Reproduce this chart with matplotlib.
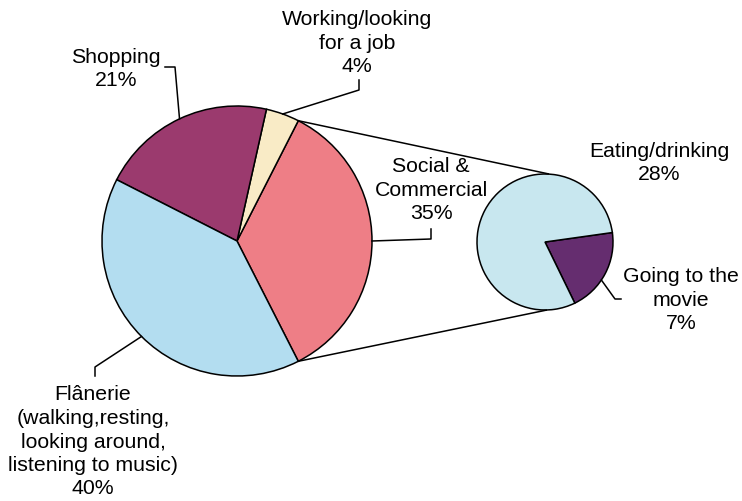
import numpy as np
import matplotlib
matplotlib.use("Agg")
import matplotlib.pyplot as plt

# ---- data ----
main_labels = ["Social &\nCommercial", "Working/looking\nfor a job", "Shopping",
               "Flânerie\n(walking,resting,\nlooking around,\nlistening to music)"]
main_values = [35, 4, 21, 40]
main_colors = ["#EE7E86", "#F9EBC6", "#9B3A6E", "#B3DDF0"]

sub_labels = ["Going to the\nmovie", "Eating/drinking"]
sub_values = [7, 28]
sub_colors = ["#652D6F", "#C8E7EF"]

W, H = 742, 501
fig = plt.figure(figsize=(W / 100, H / 100), dpi=100)
ax = fig.add_axes([0, 0, 1, 1])

def Y(y):  # pixel row -> data y
    return H - y

FONT = dict(family=["Liberation Sans", "DejaVu Sans"], fontsize=15.3, linespacing=1.3)
LW = 1.1

# main pie
c1 = (237, Y(241)); r1 = 135
start1 = -main_values[0] / 100 * 360 / 2
ax.pie(main_values, colors=main_colors, startangle=start1, counterclock=True,
       center=c1, radius=r1, frame=True,
       wedgeprops=dict(edgecolor="black", linewidth=LW))

# secondary pie
c2 = (545, Y(242)); r2 = 68
sub_total = sum(sub_values)
start2 = -64
ax.pie(sub_values, colors=sub_colors, startangle=start2, counterclock=True,
       center=c2, radius=r2, frame=True,
       wedgeprops=dict(edgecolor="black", linewidth=LW))
ax.set_xlim(0, W); ax.set_ylim(0, H)
ax.set_aspect("equal")
ax.axis("off")

# connector lines
a_top = np.deg2rad(start1 + main_values[0] / 100 * 360)
a_bot = np.deg2rad(start1)
ax.plot([c1[0] + r1 * np.cos(a_top), c2[0] + 4], [c1[1] + r1 * np.sin(a_top), c2[1] + r2],
        color="black", lw=LW, solid_capstyle="butt")
ax.plot([c1[0] + r1 * np.cos(a_bot), c2[0] + 2], [c1[1] + r1 * np.sin(a_bot), c2[1] - r2],
        color="black", lw=LW, solid_capstyle="butt")

# mid angles
cum = np.cumsum([0] + main_values)
mid1 = [start1 + (cum[i] + cum[i + 1]) / 2 / 100 * 360 for i in range(len(main_values))]
cum2 = np.cumsum([0] + sub_values)
mid2 = [start2 + (cum2[i] + cum2[i + 1]) / 2 / sub_total * 360 for i in range(len(sub_values))]

def edge(c, r, ang):
    a = np.deg2rad(ang)
    return c[0] + r * np.cos(a), c[1] + r * np.sin(a)

def leader(p0, pts):
    xs = [p0[0]] + [p[0] for p in pts]
    ys = [p0[1]] + [Y(p[1]) for p in pts]
    ax.plot(xs, ys, color="black", lw=LW)

# Social & Commercial
leader(edge(c1, r1, mid1[0]), [(431, 239), (431, 229)])
ax.text(431, Y(190), f"{main_labels[0]}\n{main_values[0]}%", ha="center", va="center", **FONT)
# Working
leader(edge(c1, r1, mid1[1]), [(359, 90), (359, 80)])
ax.text(357, Y(43), f"{main_labels[1]}\n{main_values[1]}%", ha="center", va="center", **FONT)
# Shopping
leader(edge(c1, r1, mid1[2]), [(175, 67), (165, 67)])
ax.text(116, Y(69), f"{main_labels[2]}\n{main_values[2]}%", ha="center", va="center", **FONT)
# Flanerie
leader(edge(c1, r1, mid1[3]), [(95, 367), (95, 376)])
ax.text(93, Y(442), f"{main_labels[3]}\n{main_values[3]}%", ha="center", va="center", **FONT)
# Eating
ax.text(659, Y(163), f"{sub_labels[1]}\n{sub_values[1]}%", ha="center", va="center", **FONT)
# Movie
leader(edge(c2, r2, mid2[0] - 6), [(615, 299), (621, 299)])
ax.text(681, Y(300), f"{sub_labels[0]}\n{sub_values[0]}%", ha="center", va="center", **FONT)

fig.savefig("out.png", dpi=100, facecolor="white")
